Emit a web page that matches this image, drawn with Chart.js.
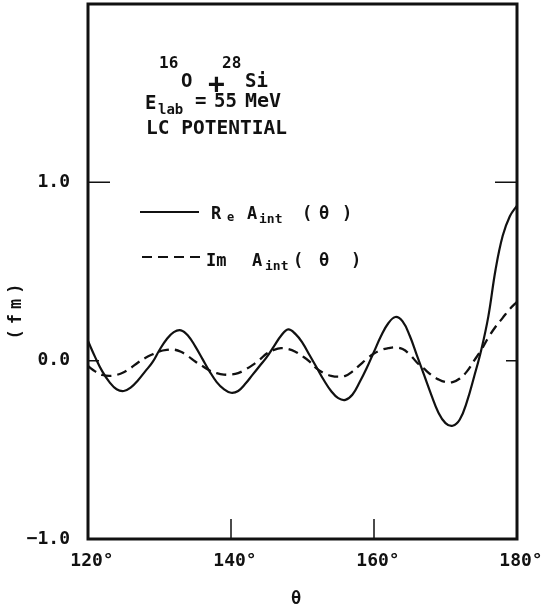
<!DOCTYPE html>
<html>
<head>
<meta charset="utf-8">
<script src="https://cdn.jsdelivr.net/npm/chart.js@4.4.1/dist/chart.umd.min.js"></script>
<style>
  html, body { margin: 0; padding: 0; background: #fff; }
  #wrap { width: 552px; height: 613px; }
</style>
</head>
<body>
<div id="wrap"><canvas id="myChart" width="552" height="613"></canvas></div>
<script>
// scattering angle (deg)
const theta = [120,121,122,123,124,125,126,127,128,129,130,131,132,133,134,135,136,137,138,139,140,
  141,142,143,144,145,146,147,148,149,150,151,152,153,154,155,156,157,158,159,160,
  161,162,163,164,165,166,167,168,169,170,171,172,173,174,175,176,177,178,179,180];

// Re A_int(theta), fm  (solid)
const reA = [0.11,0.02,-0.06,-0.12,-0.16,-0.17,-0.15,-0.11,-0.06,-0.01,0.06,
  0.12,0.16,0.17,0.14,0.08,0.01,-0.06,-0.12,-0.16,-0.18,
  -0.17,-0.13,-0.08,-0.03,0.02,0.08,0.14,0.175,0.15,0.10,
  0.03,-0.04,-0.11,-0.17,-0.21,-0.22,-0.19,-0.12,-0.04,0.05,
  0.14,0.21,0.245,0.22,0.14,0.03,-0.08,-0.19,-0.29,-0.35,
  -0.365,-0.33,-0.23,-0.09,0.06,0.25,0.51,0.70,0.81,0.87];

// Im A_int(theta), fm  (dashed)
const imA = [-0.03,-0.06,-0.08,-0.085,-0.08,-0.065,-0.04,-0.01,0.015,0.035,0.052,
  0.06,0.062,0.05,0.025,-0.005,-0.03,-0.055,-0.07,-0.078,-0.078,
  -0.07,-0.05,-0.025,0.005,0.04,0.06,0.07,0.065,0.05,0.025,
  -0.005,-0.045,-0.07,-0.085,-0.09,-0.085,-0.06,-0.025,0.01,0.04,
  0.06,0.07,0.075,0.065,0.035,-0.01,-0.045,-0.08,-0.105,-0.12,
  -0.12,-0.10,-0.06,0.0,0.06,0.13,0.19,0.24,0.29,0.33];

const xTicks = [120, 140, 160, 180];
const yTicks = [-1, 0, 1];
const yTickText = ["\u22121.0", "0.0", "1.0"];

const ink = "#111";
const mono = "'DejaVu Sans Mono', monospace";

function txt(ctx, s, x, y, size) {
  ctx.font = "bold " + size + "px " + mono;
  ctx.fillText(s, x, y);
}

// frame, inward ticks, text block, legend, axis titles
const decor = {
  id: "decor",
  afterDraw(chart) {
    const ctx = chart.ctx;
    const a = chart.chartArea;
    const xs = chart.scales.x, ys = chart.scales.y;
    ctx.save();
    ctx.strokeStyle = ink;
    ctx.fillStyle = ink;

    // inward tick marks
    ctx.lineWidth = 1.5;
    ctx.beginPath();
    [140, 160].forEach(v => {
      const px = xs.getPixelForValue(v);
      ctx.moveTo(px, a.bottom); ctx.lineTo(px, a.bottom - 20);
    });
    [[1, 22], [0, 11]].forEach(([v, len]) => {
      const py = ys.getPixelForValue(v);
      ctx.moveTo(a.left, py); ctx.lineTo(a.left + len, py);
      ctx.moveTo(a.right, py); ctx.lineTo(a.right - len, py);
    });
    ctx.stroke();

    // frame
    ctx.lineWidth = 3;
    ctx.strokeRect(a.left, a.top, a.right - a.left, a.bottom - a.top);

    ctx.textBaseline = "alphabetic";
    ctx.textAlign = "left";

    // reaction label
    txt(ctx, "16", 159, 68, 16);
    txt(ctx, "28", 222, 68, 16);
    txt(ctx, "O", 181, 87, 19);
    txt(ctx, "Si", 245, 87, 19);
    txt(ctx, "+", 208, 93, 28);

    txt(ctx, "E", 145, 109, 19);
    txt(ctx, "lab", 158, 114, 14);
    txt(ctx, "=", 195, 107, 19);
    txt(ctx, "55", 214, 107, 19);
    txt(ctx, "MeV", 245, 107, 20);
    txt(ctx, "LC POTENTIAL", 146, 134, 19.5);

    // legend
    ctx.lineWidth = 2;
    ctx.beginPath();
    ctx.moveTo(140, 212); ctx.lineTo(199, 212);
    ctx.stroke();
    ctx.setLineDash([10, 6]);
    ctx.beginPath();
    ctx.moveTo(142, 257); ctx.lineTo(200, 257);
    ctx.stroke();
    ctx.setLineDash([]);

    txt(ctx, "R", 211, 219, 17);
    txt(ctx, "e", 227, 221, 12);
    txt(ctx, "A", 247, 219, 17);
    txt(ctx, "int", 259, 223, 13);
    txt(ctx, "(", 302, 219, 17);
    txt(ctx, "\u03b8", 319, 219, 17);
    txt(ctx, ")", 342, 219, 17);

    txt(ctx, "Im", 206, 266, 17);
    txt(ctx, "A", 252, 266, 17);
    txt(ctx, "int", 265, 270, 13);
    txt(ctx, "(", 293, 266, 17);
    txt(ctx, "\u03b8", 319, 266, 17);
    txt(ctx, ")", 351, 266, 17);

    // axis titles
    ctx.textAlign = "center";
    ctx.textBaseline = "middle";
    txt(ctx, "\u03b8", 296, 600, 17);
    ctx.save();
    ctx.translate(17, 311);
    ctx.rotate(-Math.PI / 2);
    ctx.letterSpacing = "5px";
    txt(ctx, "(fm)", 2, 0, 17);
    ctx.restore();

    ctx.restore();
  }
};

const data = {
  datasets: [
    {
      label: "Re A_int",
      data: theta.map((t, i) => ({ x: t, y: reA[i] })),
      borderColor: ink,
      borderWidth: 2.2,
      pointRadius: 0,
      tension: 0.4
    },
    {
      label: "Im A_int",
      data: theta.map((t, i) => ({ x: t, y: imA[i] })),
      borderColor: ink,
      borderWidth: 2.3,
      borderDash: [10, 6],
      pointRadius: 0,
      tension: 0.4
    }
  ]
};

const config = {
  type: "line",
  data,
  options: {
    responsive: false,
    animation: false,
    layout: { padding: { left: 0, right: 35, top: 4, bottom: 0 } },
    plugins: { legend: { display: false }, tooltip: { enabled: false } },
    scales: {
      x: {
        type: "linear",
        min: 120,
        max: 180,
        afterBuildTicks: s => { s.ticks = xTicks.map(v => ({ value: v })); },
        afterFit: s => { s.height = 74; s.paddingLeft = 0; s.paddingRight = 0; },
        grid: { display: false, drawTicks: false },
        border: { display: false },
        ticks: {
          color: ink,
          padding: 12,
          labelOffset: 4,
          maxRotation: 0,
          font: { family: mono, size: 18, weight: "bold" },
          callback: v => v + "\u00b0"
        }
      },
      y: {
        type: "linear",
        min: -1,
        max: 2,
        afterBuildTicks: s => { s.ticks = yTicks.map(v => ({ value: v })); },
        afterFit: s => { s.width = 88; s.paddingTop = 0; s.paddingBottom = 0; },
        grid: { display: false, drawTicks: false },
        border: { display: false },
        ticks: {
          color: ink,
          padding: 18,
          font: { family: mono, size: 18, weight: "bold" },
          callback: v => yTickText[yTicks.indexOf(v)]
        }
      }
    }
  },
  plugins: [decor]
};

var myChart = new Chart(document.getElementById("myChart"), config);
</script>
</body>
</html>
